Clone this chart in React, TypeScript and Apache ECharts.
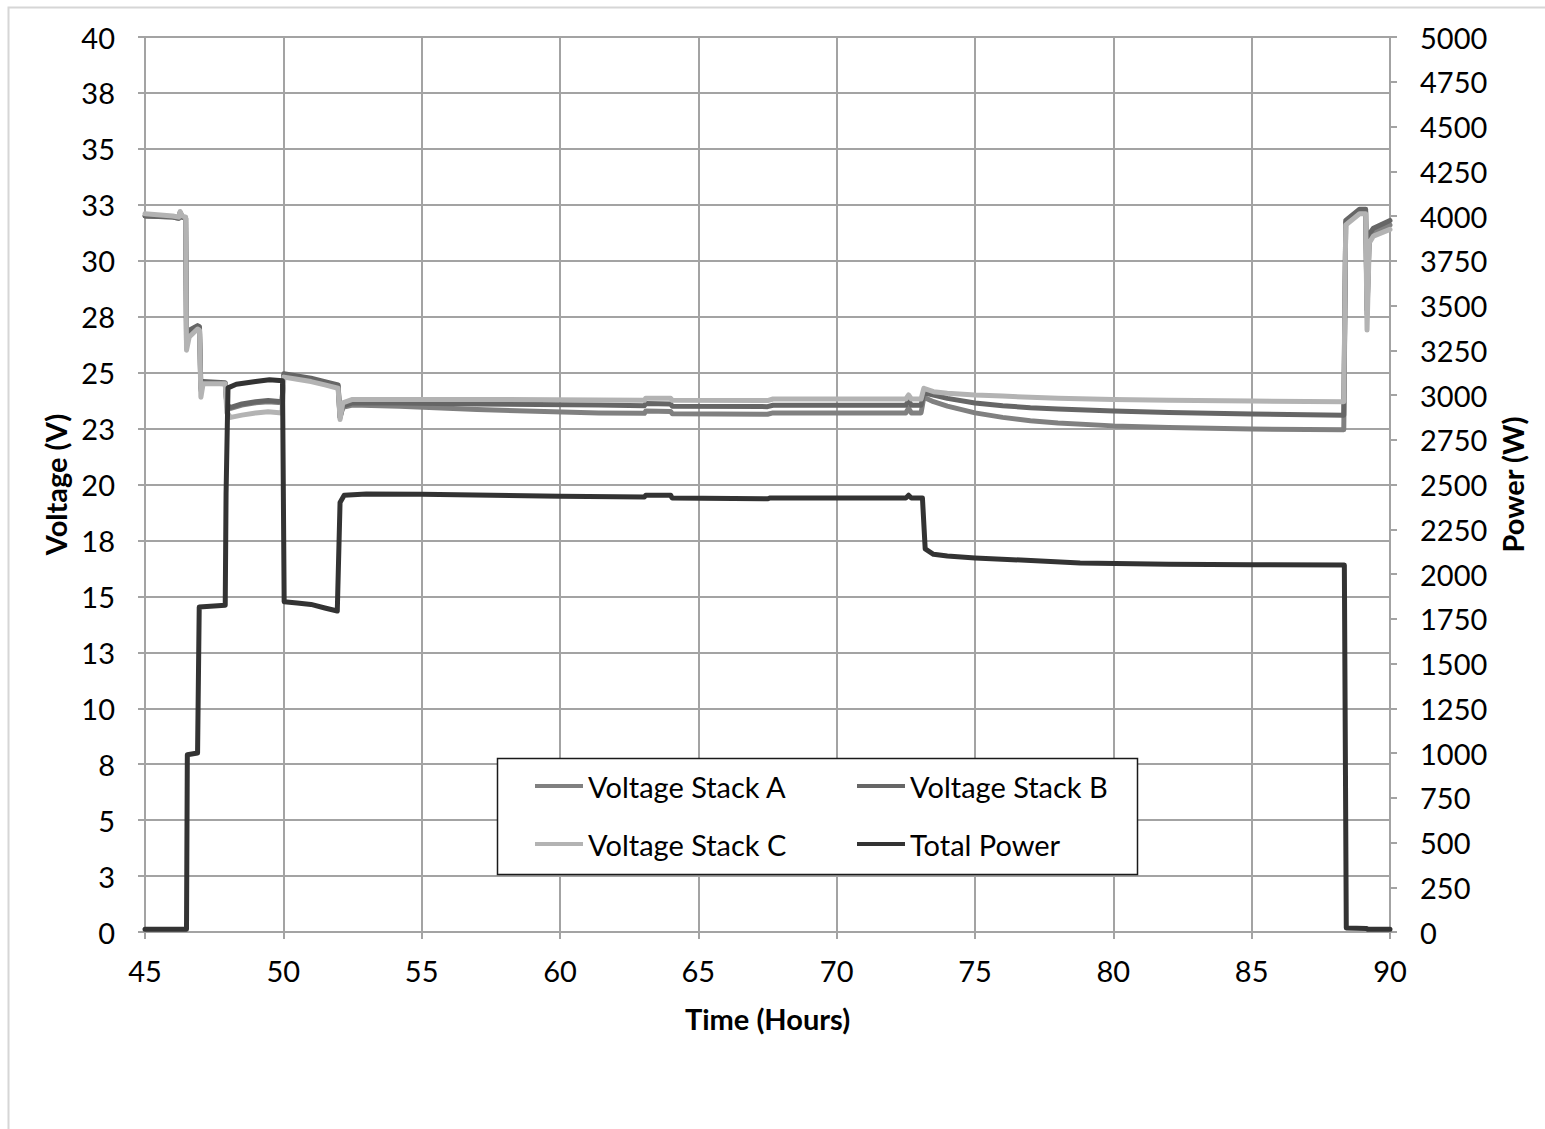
import React, { useEffect, useRef } from "react";
import * as echarts from "echarts";

// ---- data ----
const voltTime = [45.0, 46.0, 46.22, 46.27, 46.35, 46.47, 46.5, 46.6, 46.9, 46.97, 47.02, 47.1, 47.9, 47.96, 48.1, 48.5, 49.0, 49.45, 49.95, 50.02, 50.5, 51.0, 51.5, 51.98, 52.05, 52.15, 52.5, 54.2, 57.0, 61.4, 63.05, 63.1, 64.0, 64.06, 67.5, 67.7, 72.5, 72.6, 72.7, 73.05, 73.15, 73.5, 74.0, 75.0, 76.0, 77.0, 78.0, 80.0, 82.0, 85.0, 88.33, 88.4, 88.9, 89.12, 89.17, 89.25, 89.4, 90.0];
const voltA = [32.0, 31.95, 31.9, 32.15, 31.95, 31.9, 26.3, 26.8, 27.0, 26.95, 24.2, 24.55, 24.5, 23.5, 23.4, 23.55, 23.65, 23.7, 23.65, 24.9, 24.8, 24.7, 24.55, 24.4, 23.0, 23.45, 23.55, 23.5, 23.35, 23.2, 23.18, 23.28, 23.26, 23.16, 23.14, 23.2, 23.2, 23.4, 23.2, 23.2, 23.9, 23.7, 23.5, 23.2, 23.0, 22.85, 22.75, 22.62, 22.55, 22.48, 22.45, 31.7, 32.2, 32.2, 27.6, 31.0, 31.3, 31.6];
const voltB = [32.0, 31.95, 31.9, 32.15, 31.95, 31.9, 26.4, 26.9, 27.1, 27.05, 24.3, 24.6, 24.55, 23.55, 23.45, 23.6, 23.7, 23.75, 23.7, 24.95, 24.85, 24.75, 24.6, 24.45, 23.0, 23.5, 23.65, 23.64, 23.6, 23.55, 23.52, 23.62, 23.6, 23.5, 23.48, 23.54, 23.54, 23.75, 23.54, 23.54, 24.1, 24.0, 23.85, 23.64, 23.52, 23.43, 23.37, 23.28, 23.22, 23.15, 23.1, 31.8, 32.3, 32.3, 27.8, 31.2, 31.45, 31.8];
const voltC = [32.1, 32.0, 31.95, 32.2, 32.0, 31.95, 26.0, 26.6, 26.95, 26.9, 23.9, 24.5, 24.5, 23.2, 23.0, 23.1, 23.2, 23.25, 23.2, 24.8, 24.7, 24.6, 24.45, 24.3, 22.9, 23.65, 23.8, 23.8, 23.8, 23.78, 23.76, 23.86, 23.85, 23.76, 23.75, 23.82, 23.82, 24.0, 23.82, 23.82, 24.3, 24.15, 24.08, 24.0, 23.95, 23.9, 23.85, 23.8, 23.77, 23.73, 23.7, 31.6, 32.1, 32.1, 26.9, 30.8, 31.1, 31.4];

const powerTime = [45.0, 46.5, 46.53, 46.9, 46.96, 47.9, 47.93, 48.0, 48.3, 49.0, 49.5, 49.97, 50.03, 50.5, 51.0, 51.5, 51.95, 52.05, 52.2, 53.0, 55.0, 60.0, 63.05, 63.1, 64.0, 64.05, 67.5, 67.6, 72.5, 72.6, 72.7, 73.1, 73.2, 73.5, 74.0, 75.0, 78.8, 82.0, 85.0, 88.35, 88.42, 89.15, 89.2, 90.0];
const power = [15, 15, 990, 1000, 1815, 1825, 2450, 3040, 3060, 3075, 3085, 3080, 1845, 1838, 1830, 1810, 1793, 2400, 2440, 2447, 2445, 2435, 2430, 2440, 2440, 2425, 2420, 2425, 2425, 2440, 2425, 2425, 2140, 2110, 2100, 2090, 2062, 2055, 2052, 2050, 22, 20, 15, 15];

const xTicks = { min: 45, max: 90, interval: 5 };
const voltTicks = { min: 0, max: 40, interval: 2.5 };
const powerTicks = { min: 0, max: 5000, interval: 250 };

const seriesNames = ["Voltage Stack A", "Voltage Stack B", "Voltage Stack C", "Total Power"];
const seriesColors = ["#808080", "#666666", "#b3b3b3", "#333333"];

const zip = (xs: number[], ys: number[]) => xs.map((x, i) => [x, ys[i]]);

const FONT = "Lato";
const GRID_COLOR = "#a3a3a3";

export default function App() {
  const ref = useRef<HTMLDivElement>(null);
  useEffect(() => {
    if (!ref.current) return;
    const chart = echarts.init(ref.current, undefined, { renderer: "svg" });
    const lineSeries = (idx: number, data: number[][], yAxisIndex: number) => ({
      name: seriesNames[idx],
      type: "line",
      yAxisIndex,
      data,
      showSymbol: false,
      symbol: "none",
      z: 2 + idx,
      lineStyle: { color: seriesColors[idx], width: 5, cap: "round", join: "round" },
      itemStyle: { color: seriesColors[idx] },
    });
    const legendCommon = {
      orient: "vertical",
      icon: "rect",
      itemWidth: 48,
      itemHeight: 4,
      itemGap: 28,
      z: 20,
      selectedMode: false,
      textStyle: { fontFamily: FONT, fontSize: 29, color: "#000", lineHeight: 30 },
    };
    chart.setOption({
      animation: false,
      backgroundColor: "#fff",
      textStyle: { fontFamily: FONT },
      grid: { left: 145, top: 37, right: 155, bottom: 197, containLabel: false },
      legend: [
        { ...legendCommon, left: 530, top: 766, data: [seriesNames[0], seriesNames[2]] },
        { ...legendCommon, left: 852, top: 766, data: [seriesNames[1], seriesNames[3]] },
      ],
      xAxis: {
        type: "value",
        ...xTicks,
        name: "Time (Hours)",
        nameLocation: "middle",
        nameGap: 72,
        nameTextStyle: { fontFamily: FONT, fontSize: 29, fontWeight: "bold", color: "#000" },
        axisLine: { show: true, lineStyle: { color: GRID_COLOR, width: 2 } },
        axisTick: { show: true, length: 7, lineStyle: { color: GRID_COLOR, width: 2 } },
        axisLabel: { fontFamily: FONT, fontSize: 29, color: "#000", margin: 24 },
        splitLine: { show: true, lineStyle: { color: GRID_COLOR, width: 2 } },
      },
      yAxis: [
        {
          type: "value",
          ...voltTicks,
          position: "left",
          name: "Voltage (V)",
          nameLocation: "middle",
          nameRotate: 90,
          nameGap: 72,
          nameTextStyle: { fontFamily: FONT, fontSize: 29, fontWeight: "bold", color: "#000" },
          axisLine: { show: true, lineStyle: { color: GRID_COLOR, width: 2 } },
          axisTick: { show: true, length: 7, lineStyle: { color: GRID_COLOR, width: 2 } },
          axisLabel: {
            fontFamily: FONT,
            fontSize: 29,
            color: "#000",
            margin: 30,
            formatter: (v: number) => String(Math.round(v)),
          },
          splitLine: { show: true, lineStyle: { color: GRID_COLOR, width: 2 } },
        },
        {
          type: "value",
          ...powerTicks,
          position: "right",
          name: "Power (W)",
          nameLocation: "middle",
          nameRotate: 90,
          nameGap: 108,
          nameTextStyle: { fontFamily: FONT, fontSize: 29, fontWeight: "bold", color: "#000" },
          axisLine: { show: true, lineStyle: { color: GRID_COLOR, width: 2 } },
          axisTick: { show: true, length: 7, lineStyle: { color: GRID_COLOR, width: 2 } },
          axisLabel: {
            fontFamily: FONT,
            fontSize: 29,
            color: "#000",
            margin: 30,
            formatter: (v: number) => String(v),
          },
          splitLine: { show: false },
        },
      ],
      graphic: [
        {
          type: "polyline",
          silent: true,
          z: 0,
          shape: { points: [[8.5, 1129], [8.5, 7.5], [1545, 7.5]] },
          style: { stroke: "#d6d6d6", lineWidth: 2, fill: "none" },
        },
        {
          type: "rect",
          silent: true,
          z: 10,
          shape: { x: 497.5, y: 758.5, width: 640, height: 116 },
          style: { fill: "#fff", stroke: "#1a1a1a", lineWidth: 1.5 },
        },
      ],
      series: [
        lineSeries(0, zip(voltTime, voltA), 0),
        lineSeries(1, zip(voltTime, voltB), 0),
        lineSeries(2, zip(voltTime, voltC), 0),
        lineSeries(3, zip(powerTime, power), 1),
      ],
    });
    return () => chart.dispose();
  }, []);
  return (
    <div
      ref={ref}
      style={{ position: "absolute", left: 0, top: 0, width: 1545, height: 1129 }}
    />
  );
}
